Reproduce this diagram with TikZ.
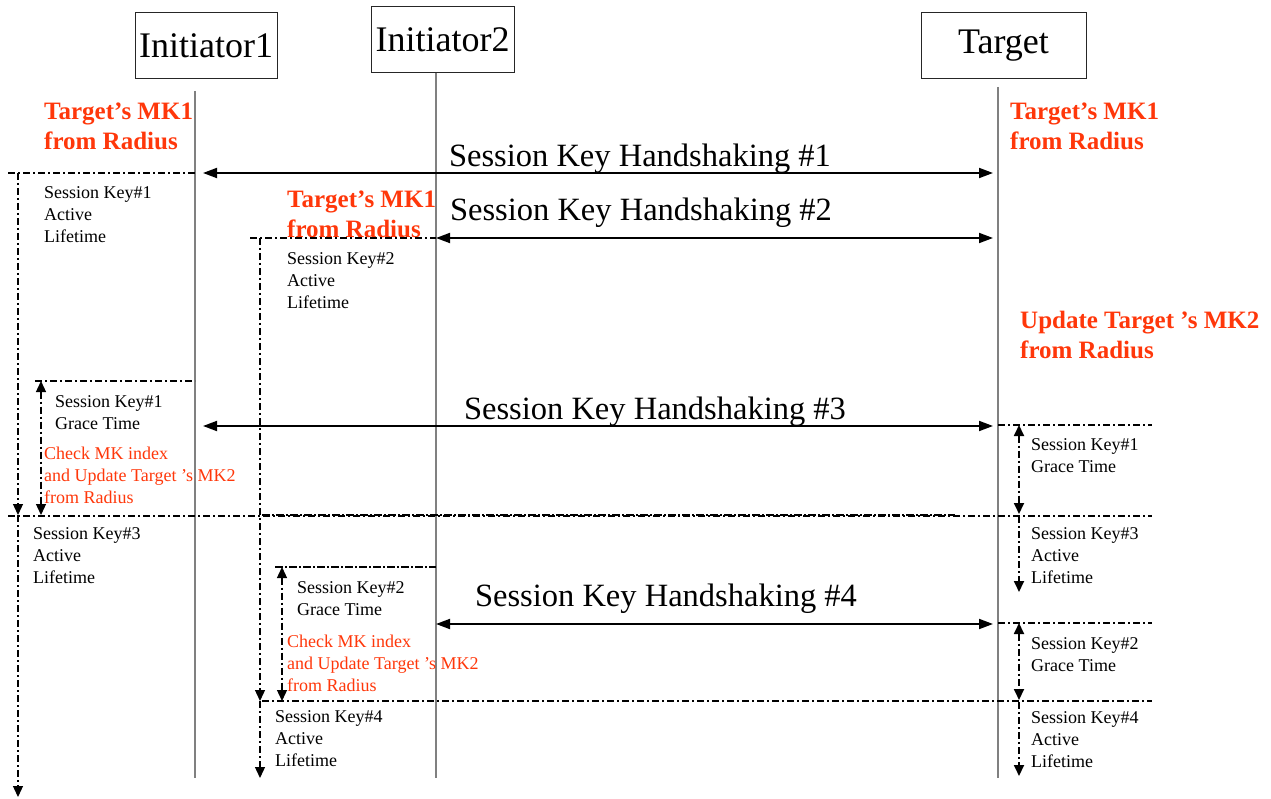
\documentclass[tikz,border=0pt]{standalone}
\usepackage{fontspec}
\setmainfont{Liberation Serif}
\usetikzlibrary{arrows.meta}
\definecolor{redtxt}{RGB}{255,55,10}
\definecolor{lifegray}{RGB}{128,128,128}
\begin{document}
\begin{tikzpicture}[x=1pt,y=-1pt,
  actor/.style={draw=black!85, line width=1pt, inner sep=0, font=\fontsize{36}{40}\selectfont},
  life/.style={draw=lifegray, line width=1.5pt},
  msg/.style={line width=1.8pt, {Triangle[length=14pt,width=10pt]}-{Triangle[length=14pt,width=10pt]}},
  msglabel/.style={font=\fontsize{32.5}{36}\selectfont, inner sep=0},
  dd/.style={line width=1.3pt, dash pattern=on 7pt off 3pt on 2pt off 3pt},
  ddbold/.style={line width=1.8pt, dash pattern=on 8pt off 2pt on 2pt off 2pt},
  ddarrow/.style={dd, -{Triangle[length=11pt,width=10pt]}},
  ddboth/.style={dd, {Triangle[length=11pt,width=10pt]}-{Triangle[length=11pt,width=10pt]}},
  small/.style={font=\fontsize{18}{22}\selectfont, align=left, anchor=west, inner sep=0},
  redsmall/.style={small, text=redtxt},
  redbold/.style={font=\fontsize{25}{30}\selectfont\bfseries, text=redtxt, align=left, anchor=west, inner sep=0},
]
\useasboundingbox (0,0) rectangle (1271,799);

% actors
\node[actor, minimum width=142pt, minimum height=66pt] (i1) at (206,46) {Initiator1};
\node[actor, minimum width=143pt, minimum height=66pt] (i2) at (442.5,40) {Initiator2};
\node[actor, minimum width=165pt, minimum height=66pt] (tg) at (1003.5,46) {Target};

% lifelines
\coordinate (i1a) at (195,91);   \coordinate (i1b) at (195,778);
\coordinate (i2a) at (436,73);   \coordinate (i2b) at (436,778);
\coordinate (tga) at (998,87);   \coordinate (tgb) at (998,778);
\draw[life] (i1a) -- (i1b);
\draw[life] (i2a) -- (i2b);
\draw[life] (tga) -- (tgb);

% red bold notes
\node[redbold] (n1) at (44,126) {Target’s MK1\\from Radius};
\node[redbold] (n2) at (1010,126) {Target’s MK1\\from Radius};
\node[redbold] (n3) at (287,214) {Target’s MK1\\from Radius};
\node[redbold] (n4) at (1020,335) {Update Target ’s MK2\\from Radius};

% messages
\coordinate (m1l) at (203,173); \coordinate (m1r) at (993,173);
\coordinate (m2l) at (436,238); \coordinate (m2r) at (993,238);
\coordinate (m3l) at (203,426); \coordinate (m3r) at (993,426);
\coordinate (m4l) at (436,624); \coordinate (m4r) at (993,624);
\draw[msg] (m1l) -- (m1r);
\draw[msg] (m2l) -- (m2r);
\draw[msg] (m3l) -- (m3r);
\draw[msg] (m4l) -- (m4r);
\node[msglabel] (h1) at (640,159) {Session Key Handshaking \#1};
\node[msglabel] (h2) at (641,213) {Session Key Handshaking \#2};
\node[msglabel] (h3) at (655,412) {Session Key Handshaking \#3};
\node[msglabel] (h4) at (666,599) {Session Key Handshaking \#4};

% key timelines (horizontal)
\coordinate (a1) at (8,173);    \coordinate (a2) at (195,173);
\coordinate (b1) at (250,238);  \coordinate (b2) at (436,238);
\coordinate (c1) at (35,381);   \coordinate (c2) at (195,381);
\coordinate (d1) at (8,516);    \coordinate (d2) at (1152,516);
\coordinate (d3) at (262,515);  \coordinate (d4) at (955,515);
\coordinate (e1) at (275,567);  \coordinate (e2) at (436,567);
\coordinate (f1) at (262,701);  \coordinate (f2) at (1152,701);
\coordinate (g1) at (998,425);  \coordinate (g2) at (1152,425);
\coordinate (k1) at (998,623);  \coordinate (k2) at (1152,623);
\draw[dd] (a1) -- (a2);
\draw[dd] (b1) -- (b2);
\draw[dd] (c1) -- (c2);
\draw[dd] (d1) -- (d2);
\draw[ddbold] (d3) -- (d4);
\draw[ddbold] (e1) -- (e2);
\draw[dd] (f1) -- (f2);
\draw[dd] (g1) -- (g2);
\draw[dd] (k1) -- (k2);

% vertical key arrows
\coordinate (v1a) at (18,173); \coordinate (v1b) at (18,515); \coordinate (v1c) at (18,797);
\draw[ddarrow] (v1a) -- (v1b);
\draw[ddarrow] (v1b) -- (v1c);
\coordinate (v2a) at (260,238); \coordinate (v2b) at (260,701); \coordinate (v2c) at (260,778);
\draw[ddarrow] (v2a) -- (v2b);
\draw[ddarrow] (v2b) -- (v2c);
\coordinate (v3a) at (41,381); \coordinate (v3b) at (41,515);
\draw[ddboth] (v3a) -- (v3b);
\coordinate (v5a) at (282,567); \coordinate (v5b) at (282,701);
\draw[ddboth] (v5a) -- (v5b);
\coordinate (r1a) at (1019,425); \coordinate (r1b) at (1019,514);
\coordinate (r2a) at (1019,516); \coordinate (r2b) at (1019,592);
\coordinate (r3a) at (1019,623); \coordinate (r3b) at (1019,700);
\coordinate (r4a) at (1019,702); \coordinate (r4b) at (1019,776);
\draw[ddboth, line width=1.8pt] (r1a) -- (r1b);
\draw[ddarrow, line width=1.8pt] (r2a) -- (r2b);
\draw[ddboth, line width=1.8pt] (r3a) -- (r3b);
\draw[ddarrow, line width=1.8pt] (r4a) -- (r4b);

% key texts
\node[small] (t1) at (44,215) {Session Key\#1\\Active\\Lifetime};
\node[small] (t2) at (287,281) {Session Key\#2\\Active\\Lifetime};
\node[small] (t3) at (55,413) {Session Key\#1\\Grace Time};
\node[redsmall] (t4) at (44,475) {Check MK index\\and Update Target ’s MK2\\from Radius};
\node[small] (t5) at (33,556) {Session Key\#3\\Active\\Lifetime};
\node[small] (t6) at (297,599) {Session Key\#2\\Grace Time};
\node[redsmall] (t7) at (287,663) {Check MK index\\and Update Target ’s MK2\\from Radius};
\node[small] (t8) at (275,739) {Session Key\#4\\Active\\Lifetime};
\node[small] (t9) at (1031,456) {Session Key\#1\\Grace Time};
\node[small] (t10) at (1031,556) {Session Key\#3\\Active\\Lifetime};
\node[small] (t11) at (1031,655) {Session Key\#2\\Grace Time};
\node[small] (t12) at (1031,740) {Session Key\#4\\Active\\Lifetime};
\end{tikzpicture}
\end{document}
